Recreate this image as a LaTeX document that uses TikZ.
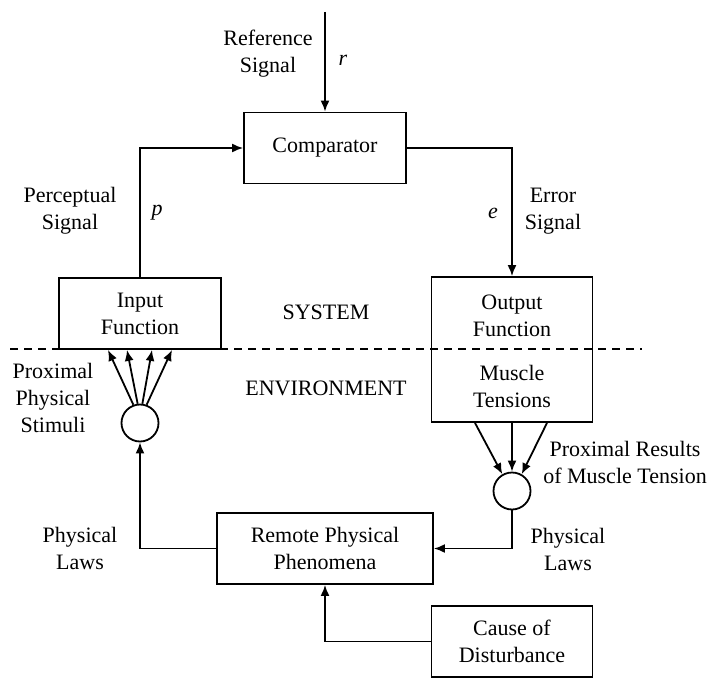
\documentclass[tikz,border=0pt]{standalone}
\usepackage{fontspec}
\setmainfont{Liberation Serif}
\usetikzlibrary{arrows.meta,positioning}

\begin{document}
\begin{tikzpicture}[x=1pt, y=-1pt, line width=1.8pt,
    font=\fontsize{22}{27}\selectfont,
    box/.style={draw, rectangle, minimum width=162pt, minimum height=71pt, inner sep=0pt, align=center},
    junc/.style={draw, circle, minimum size=37pt, inner sep=0pt},
    lbl/.style={align=center, inner sep=0pt},
    sig/.style={-{Latex[length=11pt,width=9pt]}}]
    \useasboundingbox (0,0) rectangle (714,679);
    % blocks
    \node[box] (cmp) at (325,148) {Comparator};
    \node[box] (inp) at (140,313.5) {Input\\Function};
    \node[box, minimum width=161pt, minimum height=145pt] (outp) at (512,349.5) {};
    \node[lbl] (outtxt) at (512,316) {Output\\Function};
    \node[lbl] (mustxt) at (512,386) {Muscle\\Tensions};
    \node[box, minimum width=216pt] (rem) at (325,548.5) {Remote Physical\\Phenomena};
    \node[box, minimum width=161pt] (cause) at (512,641.5) {Cause of\\Disturbance};
    \node[junc] (stim) at (140,423) {};
    \node[junc] (res) at (512,491) {};
    \coordinate (rtop) at (325,12);
    \coordinate (dl) at (10,349);
    \coordinate (dr) at (642,349);
    % system / environment border
    \draw[dash pattern=on 8pt off 6pt, line width=1.5pt] (dl) -- (dr);
    % connectors
    \draw[sig] (rtop) -- (cmp.north);
    \draw[sig] (inp.north) |- (cmp.west);
    \draw[sig] (cmp.east) -| (outp.north);
    \foreach \a/\d in {110/-32, 97/-13, 83/12, 70/32}
        \draw[sig] (stim.\a) -- ([xshift=\d pt]inp.south);
    \foreach \d/\a in {-37/120, 0/90, 35/60}
        \draw[sig] ([xshift=\d pt]outp.south) -- (res.\a);
    \draw[sig] (res.south) |- (rem.east);
    \draw[sig] (rem.west) -| (stim.south);
    \draw[sig] (cause.west) -| (rem.south);
    % labels
    \node[lbl] (reflbl) at (268,54) {Reference\\Signal};
    \node[lbl] (rlbl) at (343,60) {\textit{r}};
    \node[lbl] (perlbl) at (70,211) {Perceptual\\Signal};
    \node[lbl] (plbl) at (157,213) {\textit{p}};
    \node[lbl] (elbl) at (493,213) {\textit{e}};
    \node[lbl] (errlbl) at (553,211) {Error\\Signal};
    \node[lbl] (syslbl) at (326,312) {SYSTEM};
    \node[lbl] (envlbl) at (326,388) {ENVIRONMENT};
    \node[lbl] (stimlbl) at (53,398) {Proximal\\Physical\\Stimuli};
    \node[lbl] (reslbl) at (625,462) {Proximal Results\\of Muscle Tension};
    \node[lbl] (lawl) at (80,548) {Physical\\Laws};
    \node[lbl] (lawr) at (568,549) {Physical\\Laws};
\end{tikzpicture}
\end{document}
